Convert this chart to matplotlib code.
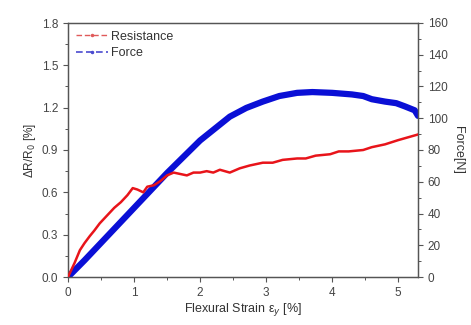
import matplotlib
matplotlib.use('Agg')
import matplotlib.pyplot as plt
from matplotlib.lines import Line2D
from matplotlib.ticker import MultipleLocator
import numpy as np

plt.rcParams['font.family'] = ['Liberation Sans', 'DejaVu Sans']
plt.rcParams['font.size'] = 8

# resistance change (left axis)
res_strain = [0.0, 0.05, 0.1, 0.18, 0.25, 0.33, 0.4, 0.48, 0.6, 0.7, 0.8, 0.9, 0.98, 1.05,
              1.14, 1.2, 1.3, 1.4, 1.5, 1.6, 1.7, 1.8, 1.9, 2.0, 2.1, 2.2, 2.3, 2.45, 2.6,
              2.75, 2.95, 3.1, 3.25, 3.47, 3.6, 3.75, 3.97, 4.1, 4.25, 4.47, 4.6, 4.8,
              5.0, 5.15, 5.3]
res_vals = [0.0, 0.05, 0.1, 0.19, 0.24, 0.29, 0.33, 0.38, 0.44, 0.49, 0.53, 0.58, 0.63, 0.62,
            0.6, 0.64, 0.65, 0.68, 0.72, 0.74, 0.73, 0.72, 0.74, 0.74, 0.75, 0.74, 0.76, 0.74, 0.77,
            0.79, 0.81, 0.81, 0.83, 0.84, 0.84, 0.86, 0.87, 0.89, 0.89, 0.90, 0.92, 0.94,
            0.97, 0.99, 1.01]

# force (right axis)
force_strain = [0.0, 0.25, 0.5, 1.0, 1.5, 2.0, 2.45, 2.7, 2.95, 3.2, 3.47, 3.7, 4.0, 4.3,
                4.47, 4.6, 4.8, 4.97, 5.1, 5.25, 5.3]
force_vals = [0.0, 10.5, 21.5, 43.5, 65.5, 86.0, 101.0, 106.5, 110.5, 114.0, 116.0, 116.5,
              116.0, 115.0, 114.0, 112.0, 110.5, 109.5, 107.5, 105.0, 101.5]

red = '#e8141a'
blue = '#0a0fd6'

fig = plt.figure(figsize=(4.71, 3.25), dpi=100)
ax1 = fig.add_axes([68 / 471, 48 / 325, 350 / 471, 254 / 325])
ax2 = ax1.twinx()

ax2.plot(force_strain, force_vals, color=blue, lw=4.5, zorder=2, solid_capstyle='round')
ax1.plot(res_strain, res_vals, color=red, lw=1.8, zorder=3)
ax1.set_zorder(ax2.get_zorder() + 1)
ax1.patch.set_visible(False)

ax1.set_xlim(0, 5.3)
ax1.set_ylim(0, 1.8)
ax2.set_ylim(0, 160)
ax1.xaxis.set_major_locator(MultipleLocator(1))
ax1.xaxis.set_minor_locator(MultipleLocator(0.5))
ax1.yaxis.set_major_locator(MultipleLocator(0.3))
ax1.yaxis.set_minor_locator(MultipleLocator(0.15))
ax2.yaxis.set_major_locator(MultipleLocator(20))
ax2.yaxis.set_minor_locator(MultipleLocator(10))
ax1.yaxis.set_major_formatter(plt.FormatStrFormatter('%.1f'))

for ax in (ax1, ax2):
    for s in ax.spines.values():
        s.set_color('#555555')
        s.set_linewidth(0.9)
    ax.tick_params(which='major', length=3.5, width=0.8, color='#555555', labelcolor='#444444',
                   labelsize=8.5)
    ax.tick_params(which='minor', length=2, width=0.7, color='#555555')

ax1.set_xlabel('Flexural Strain ε$_y$ [%]', color='#333333', fontsize=9, labelpad=2)
ax1.set_ylabel('ΔR/R$_0$ [%]', color='#333333', fontsize=8.5, labelpad=3)
ax2.set_ylabel('Force[N]', color='#333333', fontsize=9, rotation=-90, labelpad=12)

handles = [
    Line2D([], [], color='#e05a5a', lw=1, ls=(0, (4, 2)), marker='.', ms=3),
    Line2D([], [], color='#4a4ad0', lw=1.2, ls=(0, (4, 2)), marker='.', ms=3),
]
ax1.legend(handles, ['Resistance', 'Force'], loc='upper left', frameon=False,
           handlelength=2.6, handletextpad=0.2, labelspacing=0.4, fontsize=9,
           borderaxespad=0.2, labelcolor='#333333')

fig.savefig('out.png', dpi=100)
